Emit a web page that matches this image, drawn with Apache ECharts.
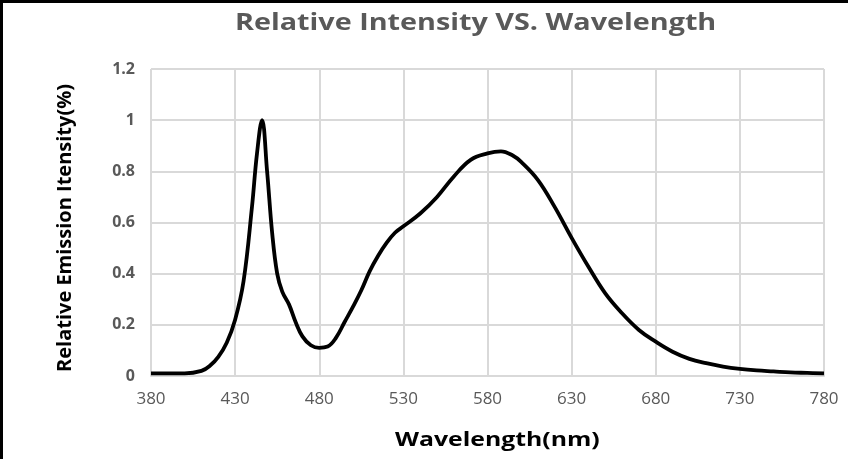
<!DOCTYPE html>
<html>
<head>
<meta charset="utf-8">
<style>
html,body{margin:0;padding:0;background:#fff;}
#chart{width:848px;height:459px;}
</style>
<script src="https://cdn.jsdelivr.net/npm/echarts@6/dist/echarts.min.js"></script>
</head>
<body>
<div id="chart"></div>
<script>
var wavelengths = [380,390,400,410,415,420,425,430,435,440,443,446,449,452,455,458,462,466,470,475,480,485,490,495,500,505,510,515,520,525,530,540,550,560,570,580,588,595,600,610,620,630,640,650,660,670,680,690,700,710,720,730,740,750,760,770,780];
var intensity   = [0.01,0.01,0.01,0.02,0.04,0.075,0.13,0.22,0.37,0.66,0.87,1.0,0.8,0.56,0.4,0.33,0.28,0.21,0.155,0.12,0.11,0.115,0.15,0.21,0.27,0.335,0.41,0.47,0.52,0.56,0.585,0.635,0.70,0.78,0.845,0.87,0.878,0.862,0.837,0.766,0.66,0.54,0.427,0.323,0.245,0.18,0.134,0.095,0.067,0.05,0.037,0.028,0.022,0.018,0.014,0.012,0.01];
var titleText = 'Relative Intensity VS. Wavelength';
var xName = 'Wavelength(nm)';
var yName = 'Relative Emission Itensity(%)';

var pts = wavelengths.map(function(w,i){return [w, intensity[i]];});
var chart = echarts.init(document.getElementById('chart'));
chart.setOption({
  animation:false,
  grid:{left:151, right:24, top:69, bottom:83},
  xAxis:{type:'value', min:380, max:780, interval:50,
    axisLine:{show:true, lineStyle:{color:'#d9d9d9', width:2}},
    axisTick:{show:false},
    axisLabel:{fontFamily:'Open Sans', fontSize:17, color:'#595959', margin:15},
    splitLine:{show:true, lineStyle:{color:'#d9d9d9', width:2}}},
  yAxis:{type:'value', min:0, max:1.2, interval:0.2,
    axisLine:{show:false}, axisTick:{show:false},
    axisLabel:{fontFamily:'Open Sans', fontWeight:'bold', fontSize:16, color:'#595959', margin:16},
    splitLine:{show:true, lineStyle:{color:'#d9d9d9', width:2}}},
  graphic:[
    {type:'rect', left:0, top:0, shape:{width:848, height:3}, style:{fill:'#000'}},
    {type:'rect', left:0, top:0, shape:{width:3, height:459}, style:{fill:'#000'}},
    {type:'text', x:235, y:23, scaleX:1.25,
      style:{text:titleText, fontFamily:'Open Sans', fontWeight:'bold', fontSize:23, fill:'#595959', align:'left', verticalAlign:'middle'}},
    {type:'text', x:395, y:440, scaleX:1.24,
      style:{text:xName, fontFamily:'Open Sans', fontWeight:'bold', fontSize:20, fill:'#000', align:'left', verticalAlign:'middle'}},
    {type:'text', x:65, y:228, rotation:Math.PI/2,
      style:{text:yName, fontFamily:'Open Sans', fontWeight:'bold', fontSize:20, fill:'#000', align:'center', verticalAlign:'middle'}}
  ],
  series:[{type:'line', data:pts, smooth:0.4, showSymbol:false,
    lineStyle:{color:'#000', width:3.8}}]
});
</script>
</body>
</html>
